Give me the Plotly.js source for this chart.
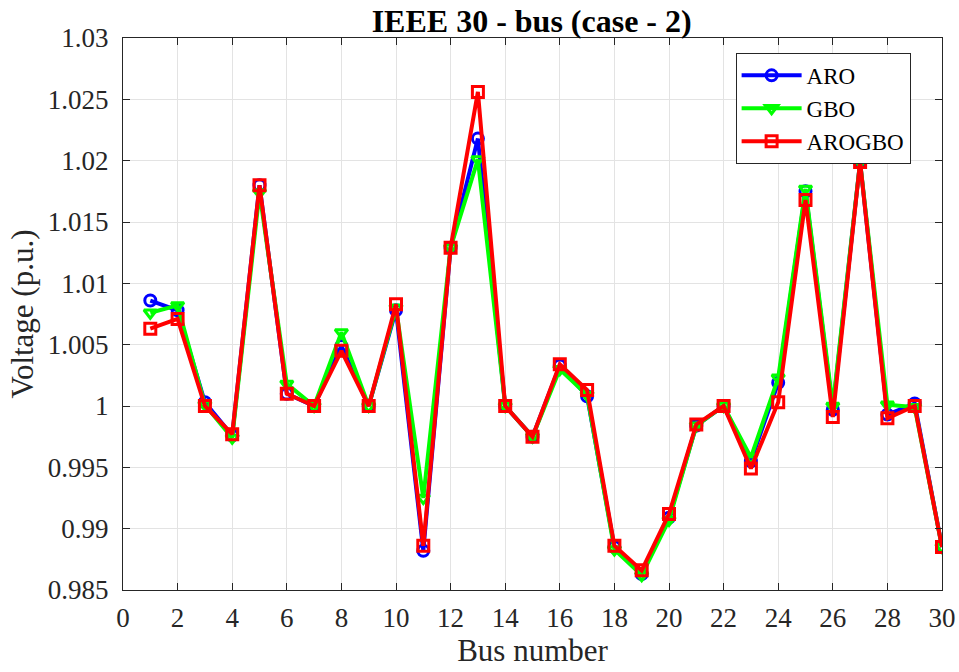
<!DOCTYPE html>
<html>
<head>
<meta charset="utf-8">
<script src="https://cdn.plot.ly/plotly-3.0.1.min.js"></script>
<style>html,body{margin:0;padding:0;background:#fff;}#chart{width:959px;height:672px;}</style>
</head>
<body>
<div id="chart"></div>
<script>
const bus = [1,2,3,4,5,6,7,8,9,10,11,12,13,14,15,16,17,18,19,20,21,22,23,24,25,26,27,28,29,30];
const aro = [1.0086,1.0078,1.0003,0.9976,1.0180,1.0010,1.0000,1.0049,1.0000,1.0078,
             0.9882,1.0129,1.0218,1.0000,0.9975,1.0033,1.0008,0.9885,0.9863,0.9909,
             0.9984,1.0000,0.9955,1.0019,1.0175,0.9997,1.0199,0.9993,1.0002,0.9885];
const gbo = [1.0076,1.0082,1.0001,0.9974,1.0174,1.0018,1.0000,1.0060,1.0000,1.0080,
             0.9925,1.0129,1.0201,1.0000,0.9975,1.0030,1.0009,0.9883,0.9862,0.9907,
             0.9984,1.0000,0.9958,1.0023,1.0177,1.0000,1.0199,1.0001,0.9999,0.9885];
const arogbo = [1.0063,1.0071,1.0000,0.9977,1.0180,1.0010,1.0000,1.0045,1.0000,1.0083,
                0.9886,1.0129,1.0256,1.0000,0.9975,1.0034,1.0013,0.9886,0.9866,0.9912,
                0.9985,1.0000,0.9949,1.0003,1.0168,0.9991,1.0199,0.9990,1.0000,0.9885];
const seriesNames = ['ARO','GBO','AROGBO'];
const xTicks = [0,2,4,6,8,10,12,14,16,18,20,22,24,26,28,30];
const yTicks = [0.985,0.99,0.995,1,1.005,1.01,1.015,1.02,1.025,1.03];
const yTickText = ['0.985','0.99','0.995','1','1.005','1.01','1.015','1.02','1.025','1.03'];

const serif = 'Liberation Serif, Times New Roman, serif';
function tr(y, name, color, sym){
  return {x: bus, y: y, name: name, type: 'scatter', mode: 'lines+markers',
    line: {color: color, width: 4},
    marker: {symbol: sym, size: 11, color: color, line: {color: color, width: 3}}};
}
const data = [
  tr(aro, seriesNames[0], '#0000ff', 'circle-open'),
  tr(gbo, seriesNames[1], '#00ff00', 'triangle-down-open'),
  tr(arogbo, seriesNames[2], '#ff0000', 'square-open')
];
const axisCommon = {
  showline: true, linecolor: '#262626', linewidth: 1, mirror: 'ticks',
  ticks: 'inside', ticklen: 7, tickcolor: '#262626', tickwidth: 1,
  showgrid: true, gridcolor: '#e3e3e3', gridwidth: 1, zeroline: false,
  tickfont: {family: serif, size: 27, color: '#262626'}
};
const layout = {
  width: 959, height: 672,
  margin: {l: 123, r: 17, t: 38, b: 82},
  paper_bgcolor: '#fff', plot_bgcolor: '#fff',
  title: {text: '<b>IEEE 30 - bus (case - 2)</b>', font: {family: serif, size: 32, color: '#000'},
          x: 0.5544, xanchor: 'center', y: 0.969, yanchor: 'middle'},
  xaxis: Object.assign({}, axisCommon, {range: [0, 30], tickvals: xTicks, ticktext: xTicks.map(String),
    ticklabelstandoff: 4,
    title: {text: 'Bus number', font: {family: serif, size: 31, color: '#262626'}, standoff: 0}}),
  yaxis: Object.assign({}, axisCommon, {range: [0.985, 1.03], tickvals: yTicks, ticktext: yTickText,
    ticklabelstandoff: 8,
    title: {text: 'Voltage (p.u.)', font: {family: serif, size: 31, color: '#262626'}, standoff: 4}}),
  showlegend: true,
  legend: {x: 0.748, y: 0.973, xanchor: 'left', yanchor: 'top', bgcolor: '#fff',
    bordercolor: '#262626', borderwidth: 1, itemwidth: 60, tracegroupgap: 0,
    font: {family: serif, size: 23, color: '#000'}}
};
Plotly.newPlot('chart', data, layout, {displayModeBar: false, staticPlot: true});
</script>
</body>
</html>
